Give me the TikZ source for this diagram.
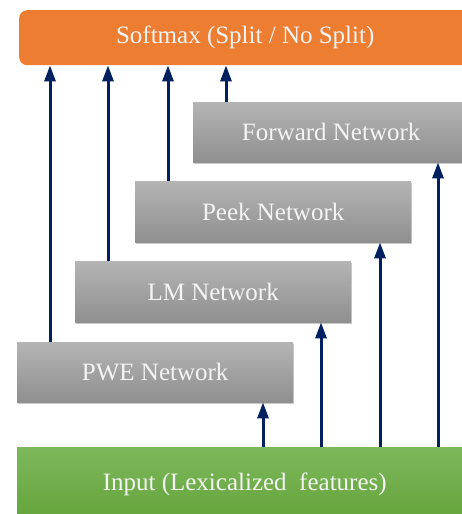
\documentclass[tikz,border=0pt]{standalone}
\usepackage{fontspec}
\setmainfont{Liberation Serif}
\usetikzlibrary{arrows.meta,shadows}
\definecolor{orangeA}{HTML}{ED7D31}
\definecolor{grayTop}{HTML}{B4B4B4}
\definecolor{grayBot}{HTML}{8F8F8F}
\definecolor{greenTop}{HTML}{7DB85C}
\definecolor{greenBot}{HTML}{64A33A}
\definecolor{navyA}{HTML}{002060}
\definecolor{txtA}{HTML}{F4F4F4}
\begin{document}
\begin{tikzpicture}[x=1pt,y=1pt,
  lbl/.style={text=txtA,font=\fontsize{25}{29}\selectfont,inner sep=0pt,anchor=north west},
  graybox/.style={lbl,top color=grayTop,bottom color=grayBot,minimum width=276pt,
     drop shadow={shadow xshift=1pt,shadow yshift=-2pt,opacity=0.35,fill=black!60}},
  softbox/.style={lbl,fill=orangeA,rounded corners=8pt,minimum width=452pt,minimum height=55pt},
  inbox/.style={lbl,top color=greenTop,bottom color=greenBot,minimum width=455pt,minimum height=75pt},
  arr/.style={draw=navyA,line width=3pt,-{Triangle[width=11pt,length=16pt]}}]
\useasboundingbox (0,0) rectangle (462,-514);
\clip (0,0) rectangle (462,-514);
\node[softbox] (soft) at (19,-10) {Softmax (Split / No Split)};
\node[graybox,minimum height=60pt] (fwd) at (193,-102) {Forward Network};
\node[graybox,minimum height=61pt] (peek) at (135,-181) {Peek Network};
\node[graybox,minimum height=61pt] (lm) at (75,-261) {LM Network};
\node[graybox,minimum height=60pt] (pwe) at (17,-342) {PWE Network};
\node[inbox] (inp) at (17,-447) {\raisebox{4pt}{Input (Lexicalized\ \ features)}};
\coordinate (c1) at (50,0);
\coordinate (c2) at (108,0);
\coordinate (c3) at (168,0);
\coordinate (c4) at (226,0);
\coordinate (c5) at (263,0);
\coordinate (c6) at (321,0);
\coordinate (c7) at (380,0);
\coordinate (c8) at (438,0);
\draw[arr] (pwe.north -| c1) -- (soft.south -| c1);
\draw[arr] (lm.north -| c2) -- (soft.south -| c2);
\draw[arr] (peek.north -| c3) -- (soft.south -| c3);
\draw[arr] (fwd.north -| c4) -- (soft.south -| c4);
\draw[arr] (inp.north -| c5) -- (pwe.south -| c5);
\draw[arr] (inp.north -| c6) -- (lm.south -| c6);
\draw[arr] (inp.north -| c7) -- (peek.south -| c7);
\draw[arr] (inp.north -| c8) -- (fwd.south -| c8);
\end{tikzpicture}
\end{document}
